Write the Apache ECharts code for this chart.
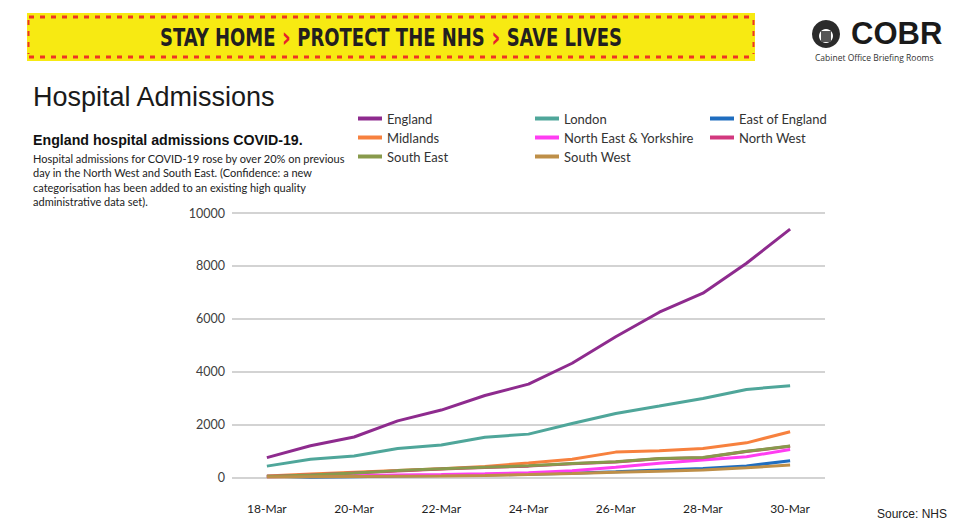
<!DOCTYPE html>
<html>
<head>
<meta charset="utf-8">
<script src="https://cdn.jsdelivr.net/npm/echarts@6/dist/echarts.min.js"></script>
<style>
html,body{margin:0;padding:0;background:#fff;}
#chart{width:959px;height:532px;}
</style>
</head>
<body>
<div id="chart"></div>
<script>
// ---- Data ----
const dates = ['18-Mar','19-Mar','20-Mar','21-Mar','22-Mar','23-Mar','24-Mar','25-Mar','26-Mar','27-Mar','28-Mar','29-Mar','30-Mar'];
const xTickIndex = [0, 2, 4, 6, 8, 10, 12];
const yTicks = [0, 2000, 4000, 6000, 8000, 10000];

const england       = [750, 1200, 1530, 2140, 2550, 3100, 3530, 4320, 5320, 6250, 6970, 8100, 9390];
const london        = [430, 690, 810, 1100, 1225, 1520, 1640, 2040, 2420, 2700, 2990, 3330, 3470];
const eastOfEngland = [55, 5, 30, 60, 75, 95, 120, 160, 220, 285, 345, 435, 635];
const midlands      = [60, 130, 200, 260, 330, 420, 550, 690, 960, 1010, 1100, 1310, 1730];
const neYorkshire   = [30, 50, 70, 95, 115, 145, 180, 255, 385, 535, 660, 785, 1060];
const northWest     = [40, 90, 170, 250, 320, 380, 430, 520, 590, 710, 750, 980, 1180];
const southEast     = [40, 90, 170, 260, 330, 390, 440, 530, 600, 720, 760, 990, 1190];
const southWest     = [20, 30, 40, 50, 60, 80, 110, 150, 200, 240, 285, 370, 470];

const seriesNames = ['England','London','East of England','Midlands','North East & Yorkshire','North West','South East','South West'];
const seriesValues = [england, london, eastOfEngland, midlands, neYorkshire, northWest, southEast, southWest];
const seriesColors = ['#8E2B8E','#4FA69A','#1F6DBF','#F7813E','#FF3DF2','#D2387E','#889A4C','#BE8F48'];

// ---- Chart ----
const chart = echarts.init(document.getElementById('chart'), null, {renderer: 'svg'});

const series = seriesNames.map((name, i) => ({
  name: name,
  type: 'line',
  data: seriesValues[i].map((v, k) => [k, v]),
  showSymbol: false,
  symbol: 'none',
  lineStyle: {width: 3, color: seriesColors[i]},
  itemStyle: {color: seriesColors[i]},
  z: 2
}));

function legendCol(left, names) {
  return {
    left: left, top: 107, orient: 'vertical',
    itemWidth: 24, itemHeight: 4, itemGap: 6,
    icon: 'rect',
    data: names,
    textStyle: {fontFamily: 'Lato', fontSize: 13, color: '#333', padding: [0, 0, 0, 0]},
    selectedMode: false
  };
}

const option = {
  animation: false,
  backgroundColor: '#fff',
  grid: {left: 232, right: 134, top: 213, bottom: 54.5},
  legend: [
    legendCol(353, ['England','Midlands','South East']),
    legendCol(530, ['London','North East & Yorkshire','South West']),
    legendCol(705, ['East of England','North West'])
  ],
  xAxis: {
    type: 'value',
    min: -0.8, max: 12.8,
    axisLine: {show: false},
    axisTick: {show: false},
    splitLine: {show: false},
    axisLabel: {
      customValues: xTickIndex,
      formatter: v => dates[Math.round(v)],
      fontFamily: 'Lato', fontSize: 12, color: '#222', margin: 25
    }
  },
  yAxis: {
    type: 'value',
    min: 0, max: 10000, interval: 2000,
    axisLine: {show: false},
    axisTick: {show: false},
    axisLabel: {
      customValues: yTicks,
      formatter: v => String(v),
      fontFamily: 'Lato', fontSize: 12.5, color: '#404040', margin: 7
    },
    splitLine: {lineStyle: {color: '#d3d3d3', width: 2}}
  },
  series: series,
  graphic: [
    // banner
    {type: 'rect', shape: {x: 27, y: 13, width: 728, height: 48}, style: {fill: '#F7EA12'}, z: 10},
    {type: 'line', shape: {x1: 29, y1: 17, x2: 753, y2: 17}, style: {stroke: '#EE3524', lineWidth: 3, lineDash: [5, 6]}, z: 11},
    {type: 'line', shape: {x1: 29, y1: 57, x2: 753, y2: 57}, style: {stroke: '#EE3524', lineWidth: 3, lineDash: [5, 6]}, z: 11},
    {type: 'line', shape: {x1: 28.5, y1: 20, x2: 28.5, y2: 54}, style: {stroke: '#EE3524', lineWidth: 2, lineDash: [5, 6]}, z: 11},
    {type: 'line', shape: {x1: 753.5, y1: 20, x2: 753.5, y2: 54}, style: {stroke: '#EE3524', lineWidth: 2, lineDash: [5, 6]}, z: 11},
    {type: 'text', x: 160, y: 23, scaleX: 0.8, z: 12,
      style: {
        text: 'STAY HOME {r|›} PROTECT THE NHS {r|›} SAVE LIVES',
        font: 'bold 25px "Liberation Sans Narrow", "DejaVu Sans Condensed", sans-serif',
        fill: '#231F20',
        rich: {r: {fill: '#E8202A', font: 'bold 28px "Liberation Sans Narrow", "DejaVu Sans", sans-serif'}}
      }},
    // COBR logo
    {type: 'circle', shape: {cx: 826, cy: 34, r: 14}, style: {fill: '#2b2b2b'}, z: 10},
    {type: 'circle', shape: {cx: 826, cy: 36, r: 7}, style: {fill: '#ffffff'}, z: 11},
    {type: 'rect', shape: {x: 821, y: 31, width: 10, height: 11}, style: {fill: '#555'}, z: 12},
    {type: 'text', left: 851, top: 18, z: 12,
      style: {text: 'COBR', font: 'bold 31px "Liberation Sans", Arial, sans-serif', fill: '#1a1a1a'}},
    {type: 'text', left: 815, top: 53, z: 12,
      style: {text: 'Cabinet Office Briefing Rooms', font: '8.5px "Open Sans", sans-serif', fill: '#333'}},
    // titles
    {type: 'text', left: 33, top: 83, z: 12,
      style: {text: 'Hospital Admissions', font: '27px "Liberation Sans", Arial, sans-serif', fill: '#1a1a1a'}},
    {type: 'text', left: 33, top: 133, z: 12,
      style: {text: 'England hospital admissions COVID-19.', font: 'bold 14.2px "Liberation Sans", Arial, sans-serif', fill: '#111'}},
    {type: 'text', left: 33, top: 151, z: 12,
      style: {
        text: 'Hospital admissions for COVID-19 rose by over 20% on previous\nday in the North West and South East. (Confidence: a new\ncategorisation has been added to an existing high quality\nadministrative data set).',
        font: '11px Lato, sans-serif', lineHeight: 14.5, fill: '#222'
      }},
    {type: 'text', left: 877, top: 508, z: 12,
      style: {text: 'Source: NHS', font: '12px "Liberation Sans", Arial, sans-serif', fill: '#222'}}
  ]
};

chart.setOption(option);
</script>
</body>
</html>
